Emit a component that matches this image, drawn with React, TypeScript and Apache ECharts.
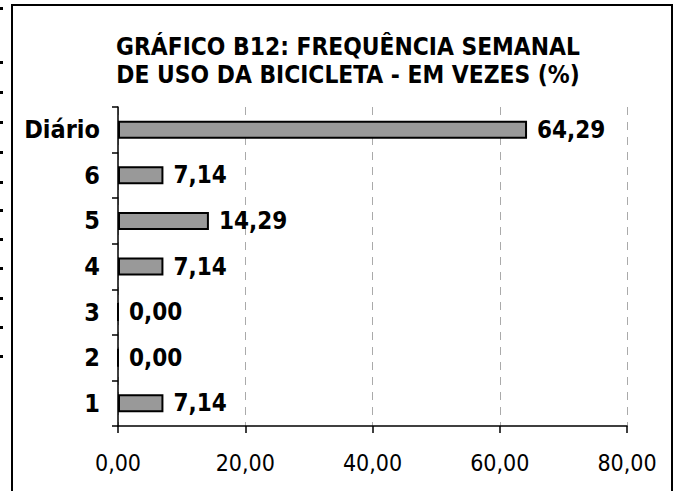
import React, { useEffect, useRef } from "react";
import * as echarts from "echarts";

const categories = ["1", "2", "3", "4", "5", "6", "Diário"];
const values = [7.14, 0.0, 0.0, 7.14, 14.29, 7.14, 64.29];
const xTicks = [0, 20, 40, 60, 80];
const titleLines = ["GRÁFICO B12: FREQUÊNCIA SEMANAL", "DE USO DA BICICLETA - EM VEZES (%)"];
const edgeMarks = [8, 62, 92, 122, 152, 182, 210, 239, 268, 298, 327, 356];

const fmt = (v: number) => v.toFixed(2).replace(".", ",");
const FONT = "'DejaVu Sans Condensed', 'DejaVu Sans', sans-serif";

export default function App() {
  const ref = useRef<HTMLDivElement>(null);
  useEffect(() => {
    if (!ref.current) return;
    const chart = echarts.init(ref.current, undefined, { renderer: "svg" });
    chart.setOption({
      animation: false,
      backgroundColor: "#ffffff",
      textStyle: { fontFamily: FONT },
      title: {
        text: titleLines.join("\n"),
        left: 343,
        top: 27,
        textAlign: "center",
        textStyle: {
          fontFamily: FONT,
          fontSize: 24.3,
          fontWeight: "bold",
          color: "#000",
          lineHeight: 28,
        },
      },
      grid: { left: 118, right: 47, top: 107, bottom: 65, containLabel: false },
      xAxis: {
        type: "value",
        min: 0,
        max: xTicks[xTicks.length - 1],
        interval: 20,
        axisLine: { show: true, lineStyle: { color: "#000", width: 1.5 } },
        axisTick: { show: true, length: 7, lineStyle: { color: "#000", width: 1.5 } },
        axisLabel: {
          formatter: (v: number) => fmt(v),
          fontFamily: FONT,
          fontSize: 23,
          color: "#000",
          margin: 25,
        },
        splitLine: {
          show: true,
          lineStyle: { color: "#aaaaaa", type: [8, 7], width: 1 },
        },
      },
      yAxis: {
        type: "category",
        data: categories,
        axisLine: { show: true, lineStyle: { color: "#000", width: 1.5 } },
        axisTick: { show: true, length: 6, alignWithLabel: false, lineStyle: { color: "#000", width: 1.5 } },
        axisLabel: {
          fontFamily: FONT,
          fontSize: 25,
          fontWeight: "bold",
          color: "#000",
          margin: 18,
        },
        splitLine: { show: false },
      },
      series: [
        {
          type: "bar",
          data: values,
          barWidth: 18,
          itemStyle: { color: "#999999", borderColor: "#000", borderWidth: 2 },
          label: {
            show: true,
            position: "right",
            distance: 10,
            formatter: (p: any) => fmt(p.value),
            fontFamily: FONT,
            fontSize: 24,
            fontWeight: "bold",
            color: "#000",
          },
        },
      ],
      graphic: [
        {
          type: "rect",
          shape: { x: 12, y: 5, width: 660, height: 520 },
          style: { fill: "none", stroke: "#000", lineWidth: 2 },
          silent: true,
        },
        ...edgeMarks.map((y) => ({
          type: "rect",
          shape: { x: 0, y: y - 1, width: 3, height: 3 },
          style: { fill: "#000" },
          silent: true,
        })),
      ],
    });
    return () => chart.dispose();
  }, []);
  return (
    <div
      ref={ref}
      style={{ position: "fixed", left: 0, top: 0, width: 674, height: 491 }}
    />
  );
}
